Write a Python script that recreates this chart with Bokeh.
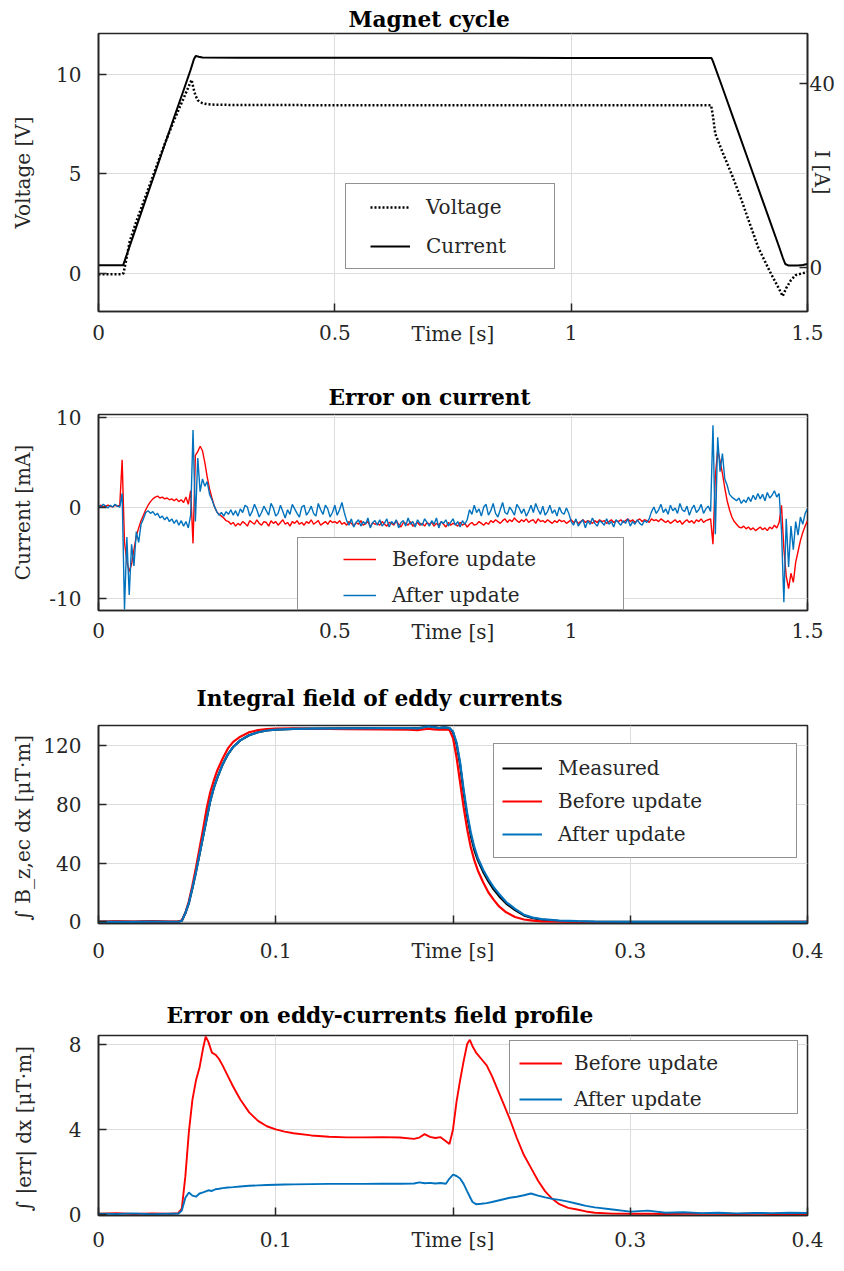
import math
import numpy as np
from bokeh.plotting import figure
from bokeh.models import Range1d, LinearAxis, FixedTicker, Legend, LegendItem
from bokeh.layouts import column
from bokeh.embed import file_html
from bokeh.resources import INLINE

FONT = "DejaVu Serif"
INK = "#262626"
GRID = "#dcdcdc"
RED = "#ff0000"
BLUE = "#0072bd"
FS = "20px"

# ---------------- Panel 1: magnet cycle ----------------
cyc_time_v = [0.0, 0.05, 0.053, 0.058, 0.066, 0.08, 0.10, 0.12, 0.14, 0.16,
              0.18, 0.19, 0.197, 0.201, 0.205, 0.21, 0.215, 0.22, 0.23, 0.25,
              0.5, 1.0, 1.296, 1.30, 1.305, 1.32, 1.34, 1.36, 1.38, 1.396,
              1.42, 1.44, 1.4475, 1.455, 1.465, 1.475, 1.49, 1.5]
cyc_voltage = [-0.05, -0.05, 0.0, 0.6, 1.6, 2.6, 3.9, 5.2, 6.5, 7.7,
               8.8, 9.35, 9.73, 9.3, 8.95, 8.7, 8.62, 8.55, 8.5, 8.47,
               8.45, 8.45, 8.45, 7.9, 7.0, 6.1, 4.95, 3.7, 2.35, 1.28,
               0.1, -0.8, -1.16, -0.75, -0.35, -0.1, 0.0, 0.05]
cyc_time_i = [0.0, 0.052, 0.06, 0.08, 0.10, 0.12, 0.14, 0.16, 0.18, 0.195,
              0.202, 0.206, 0.212, 0.22, 0.3, 1.0, 1.297, 1.30, 1.32, 1.34,
              1.36, 1.38, 1.40, 1.42, 1.44, 1.448, 1.453, 1.46, 1.48, 1.49, 1.5]
cyc_current = [0.4, 0.4, 2.8, 8.8, 14.8, 20.7, 26.7, 32.7, 38.6, 43.1,
               45.4, 46.1, 45.9, 45.75, 45.7, 45.65, 45.6, 44.9, 39.2, 33.4,
               27.6, 21.8, 16.0, 10.2, 4.4, 2.0, 0.7, 0.35, 0.35, 0.5, 0.7]

# ---------------- Panel 2: error on current (mA), 5 ms sampling ----------------
err_step = 0.005
err_before = [
    0.2, 0.3, 0.1, 0.2, 0.3, 0.2, 0.1, 0.3, 0.2, 0.3,
    5.3, -3.8, -5.9, -7.0, -6.2, -4.6, -3.1, -2.2, -1.4, -0.8,
    -0.2, 0.3, 0.7, 1.0, 1.2, 1.3, 1.1, 1.2, 1.0, 1.1,
    0.9, 1.0, 0.8, 1.0, 0.7, 0.9, 0.6, 1.2, 0.4, 1.9,
    -3.9, 5.8, 6.2, 6.8, 6.3, 5.0, 3.4, 2.1, 1.1, 0.2,
    -0.4, -0.7, -0.9, -1.1, -1.4, -1.5, -1.8, -1.6, -2.0, -1.7,
    -1.9, -1.5, -1.7, -2.0, -1.4, -1.6, -1.8, -1.3, -1.7, -1.9,
    -1.5, -1.6, -2.0, -1.4, -1.7, -1.5, -1.9, -1.6, -1.3, -1.8,
    -1.6, -2.0, -1.5, -1.7, -1.4, -1.8, -1.6, -1.9, -1.5, -1.7,
    -1.3, -1.8, -1.6, -1.4, -1.9, -1.7, -1.5, -1.8, -1.4, -1.6,
    -1.5, -1.7, -1.4, -1.8, -1.6, -1.9, -1.5, -1.7, -2.0, -1.6,
    -1.8, -1.4, -1.9, -1.7, -1.5, -2.1, -1.6, -1.8, -1.7, -1.9,
    -1.5, -1.8, -2.0, -1.6, -1.7, -1.9, -1.4, -1.8, -2.1, -1.6,
    -1.7, -1.9, -1.5, -2.0, -1.8, -1.6, -1.9, -1.7, -2.0, -1.6,
    -1.8, -1.6, -2.0, -1.7, -1.9, -1.5, -1.8, -2.1, -1.6, -1.9,
    -1.7, -1.8, -2.0, -1.6, -1.9, -1.7, -2.1, -1.8, -1.6, -1.9,
    -1.8, -1.5, -1.7, -1.9, -1.6, -1.8, -1.4, -1.6, -1.3, -1.5,
    -1.7, -1.4, -1.2, -1.6, -1.3, -1.5, -1.1, -1.4, -1.6, -1.3,
    -1.5, -1.2, -1.6, -1.4, -1.3, -1.7, -1.2, -1.5, -1.4, -1.6,
    -1.3, -1.5, -1.7, -1.4, -1.6, -1.3, -1.5, -1.4, -1.7, -1.5,
    -1.3, -1.6, -1.4, -1.7, -1.5, -1.3, -1.6, -1.4, -1.5, -1.7,
    -1.4, -1.6, -1.3, -1.5, -1.4, -1.7, -1.5, -1.3, -1.6, -1.4,
    -1.5, -1.3, -1.6, -1.4, -1.2, -1.5, -1.3, -1.6, -1.4, -1.2,
    -1.5, -1.3, -1.4, -1.6, -1.2, -1.4, -1.3, -1.5, -1.2, -1.4,
    -1.6, -1.4, -1.7, -1.5, -1.3, -1.6, -1.4, -1.8, -1.5, -1.3,
    -1.6, -1.4, -1.7, -1.3, -1.5, -1.2, -1.6, -1.4, -1.3, -1.2,
    -4.0, 3.5, 6.4, 5.2, 3.8, 2.2, 0.8, -0.2, -1.0, -1.5,
    -1.8, -2.1, -2.2, -2.0, -2.3, -2.1, -2.4, -2.2, -2.5, -2.3,
    -2.1, -2.4, -2.2, -2.5, -2.1, -2.3, -1.9, -2.2, -1.6, 0.3,
    -4.5, -7.5, -8.9, -7.2, -8.2, -6.0, -4.8, -3.6, -2.7, -2.0,
    -1.4]
err_after = [
    0.3, 0.1, 0.4, 0.2, 0.0, 0.3, 0.1, 0.4, 0.2, 0.1,
    1.6, -11.2, -3.2, -9.6, -4.0, -6.4, -2.6, -3.8, -1.8, -1.2,
    -0.5, -0.3, -0.6, -0.4, -0.8, -0.6, -1.1, -0.9, -1.3, -1.0,
    -1.5, -1.2, -1.7, -1.3, -1.9, -1.4, -2.0, -1.5, -2.2, -0.8,
    8.6, -1.5, 5.5, 1.8, 3.2, 2.4, 2.9, 1.5, 0.9, 0.2,
    -0.4, -0.8, -0.5, -0.9, -0.4, -0.7, -0.2, -0.8, -0.3, -0.9,
    -0.1, -0.5, 0.3, 0.1, -0.9, -0.4, 0.4, -0.2, -1.0, -0.5,
    0.2, -0.3, -0.8, 0.5, 0.0, -0.9, -0.6, 0.3, -0.4, -1.1,
    -0.2, -0.7, 0.4, -0.1, -0.6, -1.0, 0.1, 0.3, -0.8, -0.4,
    0.2, -0.6, -0.9, 0.5, -0.2, -0.7, 0.3, -0.1, -1.0, -0.5,
    0.3, -0.8, -0.2, 0.6, -0.5, -1.4, -1.9, -1.2, -2.1, -1.6,
    -1.3, -2.0, -1.5, -1.8, -1.1, -2.2, -1.6, -1.4, -1.9, -1.3,
    -2.0, -1.7, -1.2, -2.1, -1.5, -1.8, -1.3, -2.2, -1.6, -1.4,
    -2.0, -1.1, -1.8, -1.5, -2.1, -1.3, -1.7, -1.9, -1.2, -1.6,
    -2.0, -1.4, -1.8, -1.1, -2.2, -1.5, -1.7, -1.3, -2.0, -1.6,
    -1.2, -1.9, -1.5, -2.1, -1.4, -1.8, -1.3, -0.2, -0.7, 0.3,
    -0.5, -0.1, -0.9, 0.1, 0.4, -0.8, -0.3, 0.5, -0.6, -1.0,
    -0.2, 0.6, -0.5, -0.7, 0.1, -0.3, -0.8, 0.4, 0.0, -0.6,
    -0.1, -0.9, -0.4, 0.3, -0.5, 0.5, -0.2, -0.7, 0.2, -0.8,
    -0.4, 0.3, -0.6, -0.2, -0.9, 0.1, -0.5, -0.7, 0.0, -0.6,
    -1.5, -1.9, -1.2, -2.0, -1.6, -1.3, -2.2, -1.4, -1.8, -1.1,
    -1.7, -2.0, -1.4, -1.6, -1.9, -1.2, -1.8, -1.5, -2.1, -1.3,
    -1.6, -1.9, -1.4, -1.7, -1.2, -2.0, -1.5, -1.8, -1.3, -1.7,
    -1.9, -1.4, -1.6, -1.2, -0.4, 0.1, -0.6, -0.2, 0.4, -0.5,
    -0.1, -0.7, 0.3, -0.3, 0.0, -0.6, 0.5, -0.2, -0.4, 0.2,
    -0.8, -0.1, 0.3, -0.5, -0.2, 0.4, -0.6, -0.1, 0.2, -0.4,
    9.1, -2.9, 7.8, 4.0, 6.0, 3.2, 2.5, 1.5, 1.2, 1.0,
    0.8, 1.1, 0.5, 0.9, 0.6, 1.2, 0.7, 1.4, 0.9, 1.6,
    1.0, 1.5, 0.8, 1.7, 1.1, 1.4, 1.9, 1.2, 1.6, -2.5,
    -10.4, -1.2, -6.5, -2.0, -4.6, -1.5, -3.0, -1.0, -1.8, -0.6,
    -0.1]

# ---------------- Panel 3: integral field of eddy currents ----------------
eddy_time = [0.0, 0.01, 0.02, 0.03, 0.04, 0.045, 0.047, 0.049, 0.051, 0.053,
             0.055, 0.057, 0.059, 0.061, 0.063, 0.065, 0.067, 0.07, 0.073, 0.076,
             0.08, 0.085, 0.09, 0.095, 0.1, 0.11, 0.12, 0.14, 0.16, 0.175,
             0.18, 0.183, 0.186, 0.189, 0.192, 0.195, 0.198, 0.2, 0.202, 0.204,
             0.206, 0.208, 0.21, 0.212, 0.214, 0.217, 0.22, 0.223, 0.226, 0.23,
             0.235, 0.24, 0.245, 0.25, 0.26, 0.27, 0.28, 0.3, 0.35, 0.4]
eddy_measured = [0.0, 0.2, 0.1, 0.3, 0.1, 0.2, 0.8, 6.0, 13.0, 23.0,
                 34.0, 46.0, 58.0, 70.0, 82.0, 91.0, 98.0, 107.0, 114.0, 119.0,
                 123.5, 127.0, 129.0, 130.2, 130.8, 131.3, 131.5, 131.7, 131.8, 131.8,
                 131.7, 132.2, 133.2, 132.5, 131.9, 132.3, 131.8, 129.0, 121.0, 107.0,
                 88.0, 72.0, 59.0, 49.0, 42.0, 34.0, 27.5, 22.0, 17.5, 12.5,
                 8.0, 4.4, 2.5, 1.5, 0.6, 0.25, 0.1, 0.05, 0.0, 0.0]
eddy_before = [0.1, 0.3, 0.2, 0.4, 0.2, 0.2, 1.0, 6.0, 14.0, 25.0,
               37.0, 50.0, 63.0, 77.0, 88.0, 96.0, 103.0, 111.0, 118.0, 122.5,
               126.0, 129.0, 130.5, 131.2, 131.5, 131.6, 131.4, 131.2, 131.0, 130.8,
               130.5, 130.9, 131.4, 131.0, 130.8, 131.0, 130.6, 125.0, 112.0, 95.0,
               78.0, 63.0, 51.0, 42.0, 35.0, 27.0, 20.0, 15.0, 10.5, 6.5,
               3.3, 1.6, 0.8, 0.35, 0.1, 0.0, -0.1, -0.1, -0.1, -0.05]
eddy_after = [0.0, 0.1, 0.0, 0.2, 0.1, 0.1, 0.7, 6.0, 13.0, 23.0,
              34.0, 46.0, 58.0, 70.0, 82.0, 91.0, 98.0, 107.0, 114.0, 119.0,
              123.5, 127.0, 129.0, 130.2, 130.8, 131.3, 131.5, 131.7, 131.8, 131.8,
              131.7, 132.2, 133.2, 132.5, 131.9, 132.3, 131.8, 129.5, 122.0, 108.5,
              90.0, 74.0, 61.0, 51.0, 43.5, 35.5, 29.0, 23.5, 19.0, 13.5,
              8.8, 4.9, 2.9, 1.9, 0.9, 0.45, 0.2, 0.05, 0.0, 0.0]

# ---------------- Panel 4: error on eddy-current field profile ----------------
prof_time = [0.0, 0.01, 0.02, 0.03, 0.04, 0.045, 0.047, 0.049, 0.051, 0.053,
             0.055, 0.057, 0.059, 0.0605, 0.062, 0.064, 0.066, 0.068, 0.07, 0.073,
             0.076, 0.08, 0.085, 0.09, 0.095, 0.1, 0.105, 0.11, 0.12, 0.13,
             0.14, 0.15, 0.16, 0.17, 0.178, 0.181, 0.184, 0.187, 0.19, 0.193,
             0.196, 0.198, 0.2, 0.202, 0.204, 0.206, 0.208, 0.2095, 0.211, 0.213,
             0.216, 0.219, 0.222, 0.225, 0.228, 0.232, 0.236, 0.24, 0.244, 0.248,
             0.252, 0.256, 0.26, 0.265, 0.27, 0.275, 0.28, 0.29, 0.3, 0.31,
             0.32, 0.33, 0.34, 0.35, 0.36, 0.37, 0.38, 0.39, 0.4]
prof_before = [0.05, 0.08, 0.04, 0.07, 0.05, 0.08, 0.3, 1.8, 3.9, 5.4,
               6.3, 6.9, 7.8, 8.35, 8.1, 7.6, 7.5, 7.3, 7.0, 6.5,
               6.0, 5.4, 4.8, 4.4, 4.15, 4.0, 3.9, 3.82, 3.72, 3.66,
               3.63, 3.63, 3.64, 3.62, 3.56, 3.62, 3.78, 3.65, 3.6, 3.64,
               3.45, 3.32, 4.0, 5.3, 6.3, 7.2, 8.0, 8.2, 7.9, 7.6,
               7.3, 7.0, 6.5, 5.9, 5.3, 4.5, 3.6, 2.8, 2.2, 1.6,
               1.1, 0.75, 0.5, 0.33, 0.25, 0.16, 0.1, 0.06, 0.05, 0.05,
               0.04, 0.05, 0.06, 0.05, 0.04, 0.05, 0.04, 0.05, 0.04]
prof_after = [0.06, 0.04, 0.07, 0.03, 0.06, 0.05, 0.2, 0.8, 1.05, 0.9,
              0.85, 1.0, 1.05, 1.1, 1.15, 1.12, 1.2, 1.22, 1.25, 1.28,
              1.3, 1.33, 1.36, 1.38, 1.4, 1.41, 1.42, 1.43, 1.44, 1.45,
              1.45, 1.45, 1.46, 1.46, 1.47, 1.52, 1.48, 1.5, 1.47, 1.49,
              1.46, 1.7, 1.88, 1.82, 1.7, 1.45, 1.1, 0.85, 0.6, 0.5,
              0.52, 0.55, 0.6, 0.66, 0.72, 0.8, 0.85, 0.92, 1.0, 0.9,
              0.82, 0.75, 0.7, 0.62, 0.52, 0.42, 0.35, 0.25, 0.15, 0.2,
              0.1, 0.12, 0.08, 0.1, 0.07, 0.09, 0.08, 0.1, 0.09]

cycle_ticks = [0, 0.5, 1, 1.5]
cycle_tick_labels = ["0", "0.5", "1", "1.5"]
eddy_ticks = [0, 0.1, 0.2, 0.3, 0.4]
eddy_tick_labels = ["0", "0.1", "Time [s]", "0.3", "0.4"]

# ---------------- helpers ----------------
W = 836


def style_axis(ax):
    ax.axis_line_color = INK
    ax.axis_line_width = 1.6
    ax.major_tick_in = 8
    ax.major_tick_out = 0
    ax.major_tick_line_color = INK
    ax.major_tick_line_width = 1.5
    ax.minor_tick_line_color = None
    ax.major_label_text_font = FONT
    ax.major_label_text_font_size = FS
    ax.major_label_text_color = INK
    ax.axis_label_text_font = FONT
    ax.axis_label_text_font_size = FS
    ax.axis_label_text_font_style = "normal"
    ax.axis_label_text_color = INK


def make_fig(title, height, top, bottom, x_end, y_start, y_end,
             title_offset, title_standoff):
    p = figure(width=W, height=height, output_backend="svg", toolbar_location=None,
               x_range=Range1d(0, x_end), y_range=Range1d(y_start, y_end),
               min_border_left=98, min_border_right=28,
               min_border_top=top, min_border_bottom=bottom, title=title)
    p.background_fill_color = "white"
    p.border_fill_color = "white"
    p.outline_line_color = INK
    p.outline_line_width = 1.6
    p.grid.grid_line_color = GRID
    p.grid.grid_line_width = 1
    p.title.align = "left"
    p.title.offset = title_offset
    p.title.standoff = title_standoff
    p.title.text_font = FONT
    p.title.text_font_size = "21.7px"
    p.title.text_font_style = "bold"
    p.title.text_color = "black"
    for ax in p.axis:
        style_axis(ax)
    return p


def set_x_ticks(p, ticks, labels, standoff):
    p.xaxis.ticker = FixedTicker(ticks=ticks)
    p.xaxis.major_label_overrides = dict(zip(ticks, labels))
    p.xaxis.major_label_standoff = standoff


def add_legend(p, items, loc, pad_left, pad_top, pad_bottom, glyph_w, standoff, label_w, spacing):
    kw = dict(items=items, location=loc, margin=0, spacing=spacing,
              glyph_width=glyph_w, glyph_height=20, label_standoff=standoff,
              label_width=label_w, label_height=25,
              border_line_color=INK, border_line_width=1.5,
              background_fill_color="white", background_fill_alpha=1.0,
              label_text_font=FONT, label_text_font_size=FS, label_text_color=INK)
    try:
        lg = Legend(padding=dict(left=pad_left, right=12, top=pad_top, bottom=pad_bottom), **kw)
    except Exception:
        lg = Legend(padding=pad_top, **kw)
    p.add_layout(lg)


# ---------------- figure 1 ----------------
p1 = make_fig("Magnet cycle", 360, 33, 49, 1.5, -1.93, 12.06, 250, 4)
p1.extra_y_ranges = {"current": Range1d(-9.66, 50.97)}
rax = LinearAxis(y_range_name="current", ticker=FixedTicker(ticks=[0, 40]))
style_axis(rax)
rax.major_label_standoff = 2
rax.axis_label = "I [A]"
rax.axis_label_standoff = -28
p1.add_layout(rax, "right")
p1.yaxis[0].ticker = FixedTicker(ticks=[0, 5, 10])
p1.yaxis[0].axis_label = "Voltage [V]"
p1.yaxis[0].major_label_standoff = 17
p1.yaxis[0].axis_label_standoff = 18
set_x_ticks(p1, cycle_ticks, cycle_tick_labels, 13)
p1.xaxis.axis_label = "Time [s]"
p1.xaxis.axis_label_standoff = -21
r_v = p1.line(cyc_time_v, cyc_voltage, line_color="black", line_width=2.5, line_dash="2 2")
r_i = p1.line(cyc_time_i, cyc_current, line_color="black", line_width=2, y_range_name="current")
add_legend(p1, [LegendItem(label="Voltage", renderers=[r_v]),
                LegendItem(label="Current", renderers=[r_i])],
           (247, 42), 24, 10, 10, 40, 16, 116, 14)

# ---------------- figure 2 ----------------
err_time = np.round(np.arange(len(err_before)) * err_step, 4)
err_time_after = np.round(np.arange(len(err_after)) * err_step, 4)
p2 = make_fig("Error on current", 300, 54, 50, 1.5, -11.3, 10.3, 230, 10)
p2.yaxis.ticker = FixedTicker(ticks=[-10, 0, 10])
p2.yaxis.major_label_overrides = {-10: "-10", 0: "0", 10: "10"}
p2.yaxis.axis_label = "Current [mA]"
p2.yaxis.major_label_standoff = 17
p2.yaxis.axis_label_standoff = 11
set_x_ticks(p2, cycle_ticks, cycle_tick_labels, 12)
p2.xaxis.axis_label = "Time [s]"
p2.xaxis.axis_label_standoff = -21
r_b2 = p2.line(err_time, err_before, line_color=RED, line_width=1.4)
r_a2 = p2.line(err_time_after, err_after, line_color=BLUE, line_width=1.4)
add_legend(p2, [LegendItem(label="Before update", renderers=[r_b2]),
                LegendItem(label="After update", renderers=[r_a2])],
           (199, 0), 45, 8, 2, 33, 16, 219, 11)

# ---------------- figure 3 ----------------
p3 = make_fig("Integral field of eddy currents", 317, 65, 54, 0.4, -1.1, 133.6, 98, 30)
p3.yaxis.ticker = FixedTicker(ticks=[0, 40, 80, 120])
p3.yaxis.axis_label = "∫ B_z,ec dx  [μT·m]"
p3.yaxis.major_label_standoff = 17
p3.yaxis.axis_label_standoff = 5
set_x_ticks(p3, eddy_ticks, eddy_tick_labels, 15)
r_m3 = p3.line(eddy_time, eddy_measured, line_color="black", line_width=2.2)
r_b3 = p3.line(eddy_time, eddy_before, line_color=RED, line_width=2.2)
r_a3 = p3.line(eddy_time, eddy_after, line_color=BLUE, line_width=2.2)
add_legend(p3, [LegendItem(label="Measured", renderers=[r_m3]),
                LegendItem(label="Before update", renderers=[r_b3]),
                LegendItem(label="After update", renderers=[r_a3])],
           (395, 65), 8, 11, 11, 40, 16, 226, 8)

# ---------------- figure 4 ----------------
p4 = make_fig("Error on eddy-currents field profile", 278, 58, 40, 0.4, -0.03, 8.4, 68, 16)
p4.yaxis.ticker = FixedTicker(ticks=[0, 4, 8])
p4.yaxis.axis_label = "∫ |err| dx  [μT·m]"
p4.yaxis.major_label_standoff = 17
p4.yaxis.axis_label_standoff = 30
set_x_ticks(p4, eddy_ticks, eddy_tick_labels, 12)
r_b4 = p4.line(prof_time, prof_before, line_color=RED, line_width=1.9)
r_a4 = p4.line(prof_time, prof_after, line_color=BLUE, line_width=1.9)
add_legend(p4, [LegendItem(label="Before update", renderers=[r_b4]),
                LegendItem(label="After update", renderers=[r_a4])],
           (411, 101), 9, 9, 2, 43, 12, 211, 11)

layout = column(p1, p2, p3, p4, spacing=0)
open("out.html", "w").write(file_html(layout, INLINE))
